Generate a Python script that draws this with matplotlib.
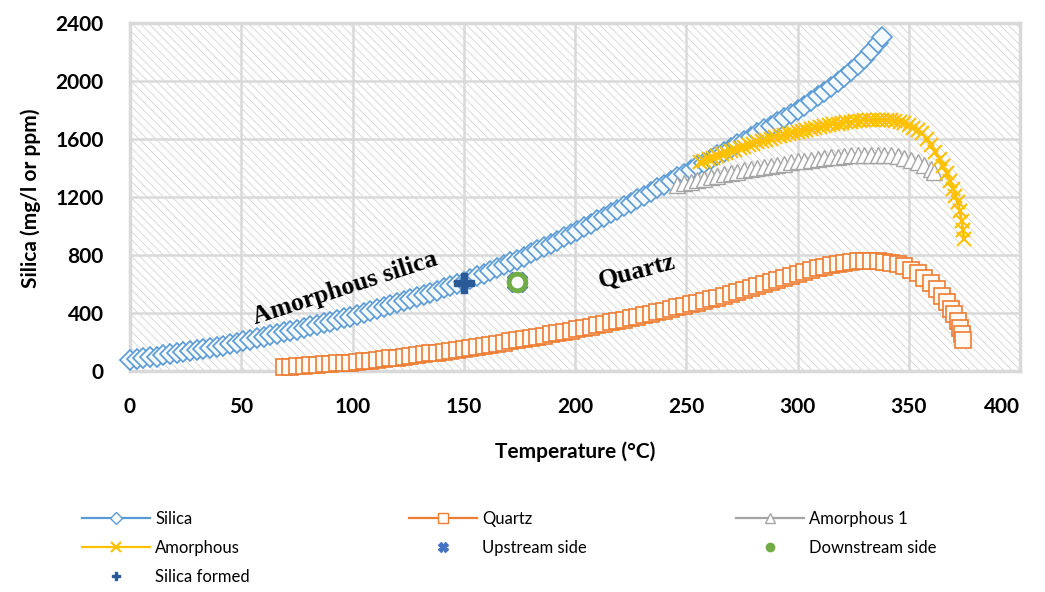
import matplotlib
matplotlib.use('Agg')
import matplotlib.pyplot as plt
from matplotlib.lines import Line2D
from matplotlib.patches import Rectangle

plt.rcParams['font.family'] = ['Lato', 'DejaVu Sans']
plt.rcParams['hatch.linewidth'] = 0.5

# ---- data ----
silica_t = [0, 3, 6, 9, 12, 15, 18, 21, 24, 27, 30, 33, 36, 39, 42, 45, 48,
            51, 54, 57, 60, 63, 66, 69, 72, 75, 78, 81, 84, 87, 90, 93, 96, 99,
            102, 105, 108, 111, 114, 117, 120, 123, 126, 129, 132, 135, 138, 141, 144, 147, 150,
            153, 156, 159, 162, 165, 168, 171, 174, 177, 180, 183, 186, 189, 192, 195, 198,
            201, 204, 207, 210, 213, 216, 219, 222, 225, 228, 231, 234, 237, 240, 243, 246, 249,
            252, 255, 258, 261, 264, 267, 270, 273, 276, 279, 282, 285, 288, 291, 294, 297, 300,
            303, 306, 309, 312, 315, 318, 321, 324, 327, 330, 333, 336, 338]
silica_v = [76, 82, 88, 94, 100, 107, 114, 121, 128, 135, 142, 150, 158, 166, 175, 184, 193,
            206, 215, 225, 235, 245, 256, 266, 276, 286, 297, 308, 319, 330, 341, 352, 363, 374,
            386, 399, 412, 426, 440, 454, 468, 482, 496, 510, 525, 540, 555, 570, 585, 600, 615,
            634, 653, 672, 691, 711, 730, 749, 768, 789, 811, 833, 855, 877, 899, 921, 944,
            968, 992, 1016, 1040, 1064, 1088, 1112, 1136, 1160, 1185, 1210, 1235, 1260, 1285, 1311, 1336, 1361,
            1387, 1412, 1437, 1462, 1487, 1512, 1538, 1563, 1589, 1615, 1641, 1667, 1693, 1720, 1747, 1773, 1800,
            1831, 1862, 1894, 1926, 1958, 1992, 2028, 2068, 2110, 2155, 2205, 2260, 2300]

quartz_t = [69, 72, 75, 78, 81, 84, 87, 90, 93, 96, 99,
            102, 105, 108, 111, 114, 117, 120, 123, 126, 129, 132, 135, 138, 141, 144, 147, 150,
            153, 156, 159, 162, 165, 168, 171, 174, 177, 180, 183, 186, 189, 192, 195, 198,
            201, 204, 207, 210, 213, 216, 219, 222, 225, 228, 231, 234, 237, 240, 243, 246, 249,
            252, 255, 258, 261, 264, 267, 270, 273, 276, 279, 282, 285, 288, 291, 294, 297, 300,
            303, 306, 309, 312, 315, 318, 321, 324, 327, 330, 333, 336, 339,
            342, 345, 348, 351, 354, 357, 360, 362.5, 365, 367, 369, 370.5, 372, 373, 373.8, 374.3]
quartz_v = [28, 31, 34, 37, 40, 43, 46, 49, 52, 55, 58,
            62, 67, 72, 77, 82, 87, 92, 97, 103, 109, 115, 121, 127, 133, 139, 145, 151,
            158, 165, 172, 180, 188, 196, 204, 212, 220, 228, 236, 244, 252, 261, 270, 279,
            288, 297, 306, 315, 325, 335, 345, 355, 365, 375, 385, 395, 405, 416, 427, 438, 449,
            460, 471, 482, 494, 506, 518, 530, 543, 556, 569, 583, 597, 611, 625, 640, 655, 670,
            684, 697, 709, 720, 730, 739, 746, 752, 756, 759, 760, 759, 755,
            748, 738, 722, 700, 674, 642, 605, 565, 520, 475, 430, 390, 345, 300, 255, 215]

amorph1_t = [246, 249, 252, 255, 258, 261, 264, 267, 270, 273, 276, 279, 282, 285, 288, 291,
             294, 297, 300, 303, 306, 309, 312, 315, 318, 321, 324, 327, 330, 333, 336, 339,
             342, 345, 348, 351, 354, 357, 360, 361.5]
amorph1_v = [1285, 1295, 1305, 1315, 1325, 1336, 1346, 1356, 1366, 1375, 1384, 1393, 1401, 1409, 1417, 1424,
             1431, 1438, 1445, 1451, 1457, 1463, 1469, 1474, 1479, 1483, 1487, 1490, 1492, 1493, 1493, 1491,
             1487, 1480, 1470, 1457, 1440, 1418, 1390, 1370]

amorph_t = [256, 258, 260, 262, 264, 266, 268, 270, 272, 274, 276, 278, 280, 282, 284, 286, 288, 290,
            292, 294, 296, 298, 300, 302, 304, 306, 308, 310, 312, 314, 316, 318, 320, 322, 324, 326,
            328, 330, 332, 334, 336, 338, 340, 342, 344, 346, 348, 350, 352, 354, 356, 358, 360, 362,
            364, 365.5, 367, 368.5, 370, 371, 372, 373, 373.8, 374.4, 374.8]
amorph_v = [1440, 1450, 1461, 1472, 1483, 1494, 1505, 1515, 1526, 1536, 1546, 1556, 1566, 1576, 1585, 1594,
            1603, 1612, 1620, 1628, 1636, 1644, 1651, 1658, 1665, 1672, 1678, 1684, 1690, 1696, 1701, 1706,
            1711, 1715, 1719, 1723, 1726, 1729, 1731, 1733, 1734, 1734, 1733, 1730, 1725, 1718, 1708, 1695,
            1679, 1660, 1640, 1600, 1560, 1510, 1460, 1415, 1365, 1310, 1255, 1210, 1165, 1100, 1035, 970, 910]

upstream_t, upstream_v = [174], [612]
downstream_t, downstream_v = [174], [612]
formed_t, formed_v = [150], [610]

x_ticks = [0, 50, 100, 150, 200, 250, 300, 350, 400]
y_ticks = [0, 400, 800, 1200, 1600, 2000, 2400]

C_SILICA = '#5b9bd5'
C_QUARTZ = '#ed7d31'
C_AMORPH1 = '#a5a5a5'
C_AMORPH = '#ffc000'
C_UP = '#4472c4'
C_DOWN = '#70ad47'
C_FORMED = '#2a5a97'
C_GRID = '#d9d9d9'

fig = plt.figure(figsize=(10.45, 5.92), dpi=100)
ax = fig.add_axes([130 / 1045, 1 - 371 / 592, 890 / 1045, 348 / 592])

# hatched plot area (hatch takes the edge colour)
ax.add_patch(Rectangle((0, 0), 1, 1, transform=ax.transAxes, facecolor='white',
                       edgecolor='#cbcbcb', lw=0, hatch='\\' * 4, zorder=0))
for s in ax.spines.values():
    s.set_visible(False)
ax.set_xlim(0, 400)
ax.set_ylim(0, 2400)
ax.set_xticks(x_ticks)
ax.set_yticks(y_ticks)
ax.grid(True, color=C_GRID, lw=1.8, zorder=1)
ax.set_axisbelow(True)
for v in [0, 400]:
    ax.axvline(v, color=C_GRID, lw=2.5, zorder=1, clip_on=False)
for v in [0, 2400]:
    ax.axhline(v, color=C_GRID, lw=2.5, zorder=1, clip_on=False)
ax.tick_params(length=0, labelsize=15, pad=19)
for lbl in ax.get_xticklabels() + ax.get_yticklabels():
    lbl.set_fontweight('bold')
ax.get_xticklabels()[-1].set_ha('right')

ax.text(0.5, -0.233, 'Temperature (°C)', transform=ax.transAxes, ha='center', va='center',
        fontsize=15, fontweight='bold')
ax.text(-0.112, 0.497, 'Silica (mg/l or ppm)', transform=ax.transAxes, ha='center', va='center',
        rotation=90, fontsize=15, fontweight='bold')

ax.plot(silica_t, silica_v, color=C_SILICA, lw=2, marker='D', ms=10, mfc='#f4f9fd',
        mec=C_SILICA, mew=1.2, zorder=3, clip_on=False)
ax.plot(quartz_t, quartz_v, color=C_QUARTZ, lw=2, marker='s', ms=11, mfc='#fffaf4',
        mec=C_QUARTZ, mew=1.2, zorder=3, clip_on=False)
ax.plot(amorph1_t, amorph1_v, color=C_AMORPH1, lw=2, marker='^', ms=12, mfc='white',
        mec=C_AMORPH1, mew=1.0, zorder=3)
ax.plot(amorph_t, amorph_v, color=C_AMORPH, lw=2, marker='x', ms=10, mec=C_AMORPH,
        mew=1.5, zorder=4)
ax.plot(upstream_t, upstream_v, ls='none', marker='X', ms=14, color=C_UP, zorder=5)
ax.plot(downstream_t, downstream_v, ls='none', marker='o', ms=12, mfc='white',
        mec=C_DOWN, mew=3.5, zorder=6)
ax.plot(formed_t, formed_v, ls='none', marker='P', ms=14, color=C_FORMED, zorder=6)

serif = ['Liberation Serif', 'DejaVu Serif']
ax.text(96.5, 572, 'Amorphous silica', rotation=18, ha='center', va='center',
        family=serif, fontweight='bold', fontsize=18.5, zorder=7)
ax.text(228, 683, 'Quartz', rotation=15, ha='center', va='center',
        family=serif, fontweight='bold', fontsize=18.5, zorder=7)

# legend, three columns placed like the original
h_silica = Line2D([], [], color=C_SILICA, lw=1.6, marker='D', ms=6, mfc='white', mec=C_SILICA)
h_quartz = Line2D([], [], color=C_QUARTZ, lw=1.6, marker='s', ms=7, mfc='white', mec=C_QUARTZ)
h_am1 = Line2D([], [], color=C_AMORPH1, lw=1.6, marker='^', ms=7, mfc='white', mec=C_AMORPH1)
h_am = Line2D([], [], color=C_AMORPH, lw=1.6, marker='x', ms=7, mec=C_AMORPH, mew=1.5)
h_up = Line2D([], [], ls='none', marker='X', ms=7, color=C_UP)
h_down = Line2D([], [], ls='none', marker='o', ms=6, color=C_DOWN)
h_formed = Line2D([], [], ls='none', marker='P', ms=6, color=C_FORMED)

columns = [
    (82, [h_silica, h_am, h_formed], ['Silica', 'Amorphous', 'Silica formed']),
    (409, [h_quartz, h_up], ['Quartz', 'Upstream side']),
    (736, [h_am1, h_down], ['Amorphous 1', 'Downstream side']),
]
for x0, hs, labs in columns:
    fig.legend(hs, labs, loc='upper left', bbox_to_anchor=(x0 / 1045, 1 - 511 / 592),
               frameon=False, handlelength=4.1, handletextpad=0.3,
               borderpad=0, borderaxespad=0, labelspacing=0.78, fontsize=12)

fig.savefig('out.png', dpi=100)
